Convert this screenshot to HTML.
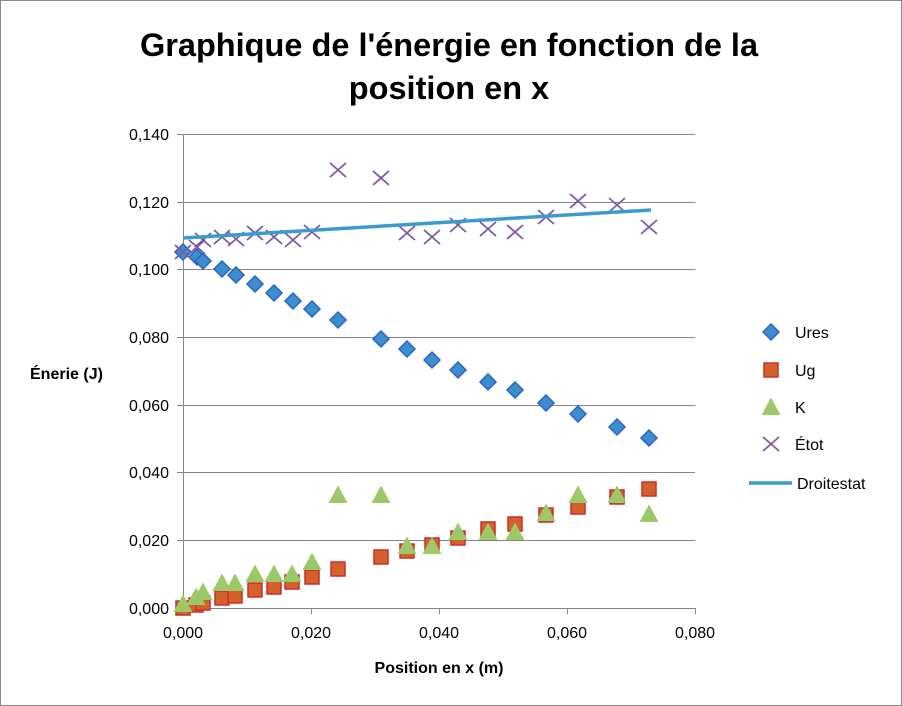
<!DOCTYPE html>
<html><head><meta charset="utf-8"><style>body{margin:0;background:#fff}svg{display:block}text{font-family:"Liberation Sans",sans-serif}</style></head><body>
<svg width="902" height="706" viewBox="0 0 902 706">
<rect x="0.5" y="0.5" width="901" height="705" fill="#fff" stroke="#888"/>
<text x="449" y="56" font-size="32.5" font-weight="bold" text-anchor="middle" fill="#000">Graphique de l'énergie en fonction de la</text>
<text x="449" y="99" font-size="32.5" font-weight="bold" text-anchor="middle" fill="#000">position en x</text>
<g stroke="#868686" stroke-width="1">
<line x1="183" y1="134.5" x2="695" y2="134.5"/><line x1="183" y1="202.5" x2="695" y2="202.5"/><line x1="183" y1="269.5" x2="695" y2="269.5"/><line x1="183" y1="337.5" x2="695" y2="337.5"/><line x1="183" y1="405.5" x2="695" y2="405.5"/><line x1="183" y1="472.5" x2="695" y2="472.5"/><line x1="183" y1="540.5" x2="695" y2="540.5"/><line x1="183" y1="608.5" x2="695" y2="608.5"/>
<line x1="183.5" y1="134" x2="183.5" y2="614"/>
<line x1="177" y1="134.5" x2="183" y2="134.5"/><line x1="177" y1="202.5" x2="183" y2="202.5"/><line x1="177" y1="269.5" x2="183" y2="269.5"/><line x1="177" y1="337.5" x2="183" y2="337.5"/><line x1="177" y1="405.5" x2="183" y2="405.5"/><line x1="177" y1="472.5" x2="183" y2="472.5"/><line x1="177" y1="540.5" x2="183" y2="540.5"/><line x1="177" y1="608.5" x2="183" y2="608.5"/>
<line x1="311.5" y1="608" x2="311.5" y2="614"/><line x1="439.5" y1="608" x2="439.5" y2="614"/><line x1="567.5" y1="608" x2="567.5" y2="614"/><line x1="695.5" y1="608" x2="695.5" y2="614"/>
</g>
<g font-size="16" fill="#000" text-anchor="end">
<text x="169" y="140">0,140</text><text x="169" y="208">0,120</text><text x="169" y="275">0,100</text><text x="169" y="343">0,080</text><text x="169" y="411">0,060</text><text x="169" y="478">0,040</text><text x="169" y="546">0,020</text><text x="169" y="614">0,000</text>
</g>
<g font-size="16" fill="#000" text-anchor="middle">
<text x="183" y="638">0,000</text><text x="311" y="638">0,020</text><text x="439" y="638">0,040</text><text x="567" y="638">0,060</text><text x="695" y="638">0,080</text>
</g>
<text x="439" y="673" font-size="16" font-weight="bold" text-anchor="middle">Position en x (m)</text>
<text x="30" y="379" font-size="16" font-weight="bold">Énerie (J)</text>
<defs>
<path id="d" d="M0,-8L8,0L0,8L-8,0Z" fill="#3c8fcc" stroke="#2a62c8" stroke-width="1.5"/>
<rect id="s" x="-7" y="-7" width="14" height="14" fill="#d2622a" stroke="#cc2e2e" stroke-width="1.5"/>
<path id="t" d="M0,-9.5L9.5,8L-9.5,8Z" fill="#9bc967"/>
<path id="x" d="M-8,-7L8,7M-8,7L8,-7" stroke="#7d5aa0" stroke-width="1.8"/>
</defs>
<g>
<use href="#s" x="183" y="608"/><use href="#s" x="196" y="605"/><use href="#s" x="203" y="603"/><use href="#s" x="222" y="598"/><use href="#s" x="235" y="596"/><use href="#s" x="255" y="590"/><use href="#s" x="274" y="587"/><use href="#s" x="292" y="582"/><use href="#s" x="312" y="577"/><use href="#s" x="338" y="569"/><use href="#s" x="381" y="557"/><use href="#s" x="407" y="551"/><use href="#s" x="432" y="545"/><use href="#s" x="458" y="538"/><use href="#s" x="488" y="529"/><use href="#s" x="515" y="524"/><use href="#s" x="546" y="515"/><use href="#s" x="578" y="507"/><use href="#s" x="617" y="497"/><use href="#s" x="649" y="489"/>
</g>
<g>
<use href="#t" x="183" y="604"/><use href="#t" x="196" y="597"/><use href="#t" x="203" y="592"/><use href="#t" x="222" y="583"/><use href="#t" x="235" y="583"/><use href="#t" x="255" y="574"/><use href="#t" x="274" y="574"/><use href="#t" x="292" y="574"/><use href="#t" x="312" y="562"/><use href="#t" x="338" y="495"/><use href="#t" x="381" y="495"/><use href="#t" x="407" y="546"/><use href="#t" x="432" y="546"/><use href="#t" x="458" y="532"/><use href="#t" x="488" y="532"/><use href="#t" x="515" y="532"/><use href="#t" x="546" y="513"/><use href="#t" x="578" y="495"/><use href="#t" x="617" y="495"/><use href="#t" x="649" y="514"/>
</g>
<g>
<use href="#d" x="183" y="252"/><use href="#d" x="197" y="257"/><use href="#d" x="203" y="261"/><use href="#d" x="222" y="269"/><use href="#d" x="236" y="275"/><use href="#d" x="255" y="284"/><use href="#d" x="274" y="293"/><use href="#d" x="293" y="301"/><use href="#d" x="312" y="309"/><use href="#d" x="338" y="320"/><use href="#d" x="381" y="339"/><use href="#d" x="407" y="349"/><use href="#d" x="432" y="360"/><use href="#d" x="458" y="370"/><use href="#d" x="488" y="382"/><use href="#d" x="515" y="390"/><use href="#d" x="546" y="403"/><use href="#d" x="578" y="414"/><use href="#d" x="617" y="427"/><use href="#d" x="649" y="438"/>
</g>
<g>
<use href="#x" x="183" y="252"/><use href="#x" x="197" y="247"/><use href="#x" x="203" y="240"/><use href="#x" x="222" y="237"/><use href="#x" x="236" y="239"/><use href="#x" x="255" y="233"/><use href="#x" x="274" y="237"/><use href="#x" x="293" y="240"/><use href="#x" x="312" y="232"/><use href="#x" x="338" y="170"/><use href="#x" x="381" y="178"/><use href="#x" x="407" y="233"/><use href="#x" x="432" y="237"/><use href="#x" x="458" y="225"/><use href="#x" x="488" y="229"/><use href="#x" x="515" y="232"/><use href="#x" x="546" y="217"/><use href="#x" x="578" y="201"/><use href="#x" x="617" y="205"/><use href="#x" x="649" y="227"/>
</g>
<line x1="183" y1="238" x2="651" y2="210" stroke="#3a9bd0" stroke-width="3.5"/>
<g font-size="16" fill="#000">
<use href="#d" x="771" y="332"/><text x="795" y="338">Ures</text>
<use href="#s" x="771" y="370"/><text x="795" y="376">Ug</text>
<use href="#t" x="771" y="407"/><text x="795" y="413">K</text>
<use href="#x" x="771" y="444"/><text x="795" y="450">Étot</text>
<line x1="749" y1="483" x2="792" y2="483" stroke="#3a9bd0" stroke-width="3.5"/><text x="797" y="489">Droitestat</text>
</g>
</svg>
</body></html>
